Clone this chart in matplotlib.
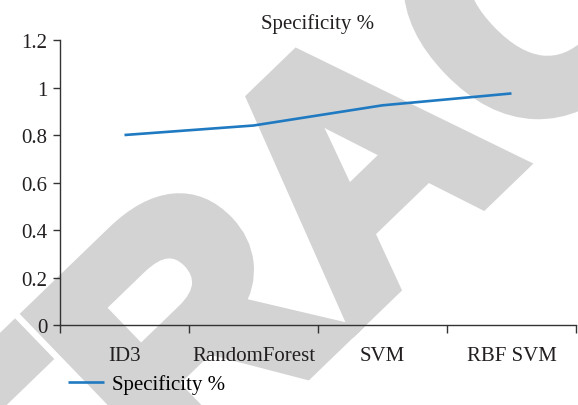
import matplotlib
matplotlib.use("Agg")
import matplotlib.pyplot as plt
import matplotlib.patheffects as pe
import numpy as np

plt.rcParams["font.family"] = ["Liberation Serif", "DejaVu Serif"]

categories = ["ID3", "RandomForest", "SVM", "RBF SVM"]
specificity = [0.80, 0.84, 0.925, 0.975]
series_name = "Specificity %"
y_ticks = [0, 0.2, 0.4, 0.6, 0.8, 1.0, 1.2]
y_tick_labels = ["0", "0.2", "0.4", "0.6", "0.8", "1", "1.2"]

fig = plt.figure(figsize=(5.78, 4.06), dpi=100)
fig.patch.set_facecolor("white")

# large grey watermark behind the chart
wm_color = "#d3d3d3"
fig.text(0.652, 0.55, "RETRACTED", fontsize=240, fontweight="bold",
         family="Liberation Sans", color=wm_color, rotation=44,
         rotation_mode="anchor", ha="center", va="center", zorder=-5,
         path_effects=[pe.withStroke(linewidth=14, foreground=wm_color,
                                     joinstyle="miter")])

ax = fig.add_axes([0.1038, 0.197, 0.8927, 0.702])
ax.patch.set_alpha(0)

x = np.arange(len(categories))
line, = ax.plot(x, specificity, color="#1f7ac2", linewidth=1.9,
                solid_capstyle="butt", label=series_name)

ax.set_xlim(-0.5, len(categories) - 0.5)
ax.set_ylim(0, 1.2)

ax.set_yticks(y_ticks)
ax.set_yticklabels(y_tick_labels)
ax.set_xticks(np.arange(-0.5, len(categories), 1.0))
ax.set_xticklabels([])
ax.set_xticks(x, minor=True)
ax.set_xticklabels(categories, minor=True)

for side in ("top", "right"):
    ax.spines[side].set_visible(False)
for side in ("left", "bottom"):
    ax.spines[side].set_color("#333333")
    ax.spines[side].set_linewidth(1.0)

ax.tick_params(axis="y", direction="out", length=5, width=1.0,
               color="#333333", labelsize=15, pad=4, labelcolor="#231f20")
ax.tick_params(axis="x", which="major", direction="out", length=6,
               width=1.0, color="#333333")
ax.tick_params(axis="x", which="minor", length=0, labelsize=15, pad=15,
               labelcolor="#231f20")

ax.set_title(series_name, fontsize=15, color="#231f20", pad=9)

fig.legend(handles=[line], labels=[series_name], loc="center left",
           bbox_to_anchor=(0.118, 0.052), frameon=False, fontsize=15,
           handlelength=1.7, handletextpad=0.4, borderaxespad=0,
           borderpad=0)

fig.savefig("out.png", dpi=100, facecolor="white")
